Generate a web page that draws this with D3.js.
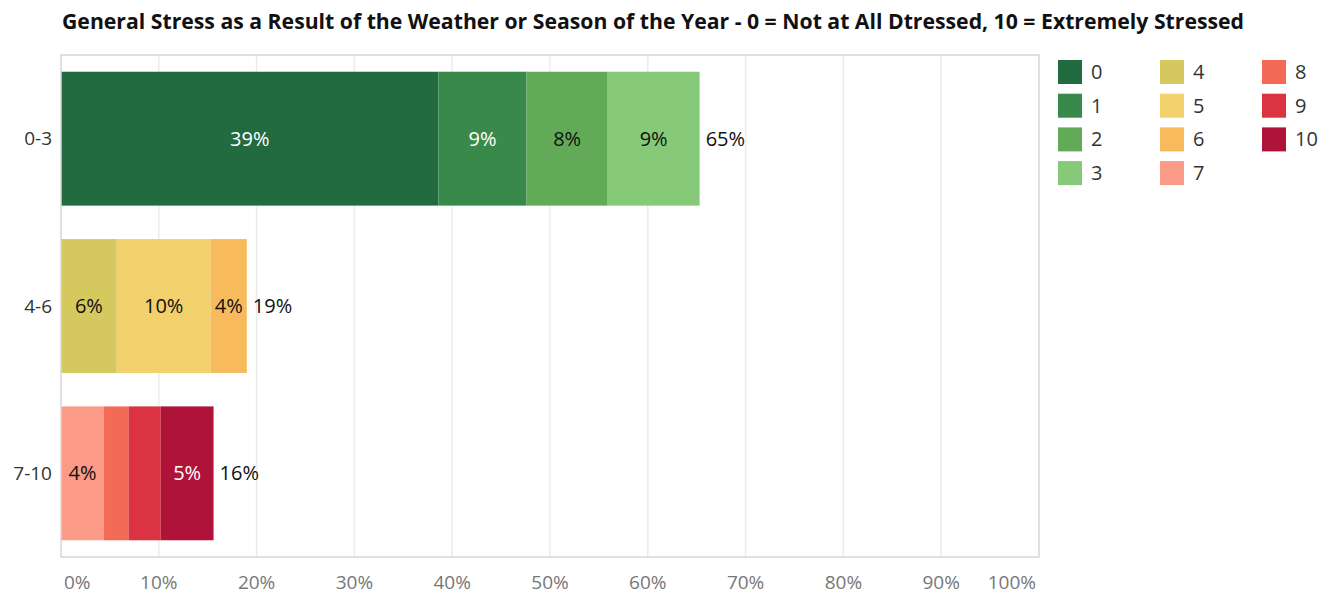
<!DOCTYPE html>
<html>
<head>
<meta charset="utf-8">
<style>
  body { margin: 0; background: #fff; }
  text { font-family: "Open Sans", "Noto Sans", sans-serif; }
</style>
</head>
<body>
<svg width="1331" height="595"></svg>
<script src="https://d3js.org/d3.v7.min.js"></script>
<script>

  // rows of the chart and the stress levels stacked inside each one
  var groups = ["0-3", "4-6", "7-10"];
  var levels = ["0", "1", "2", "3", "4", "5", "6", "7", "8", "9", "10"];
  var levelGroup = ["0-3", "0-3", "0-3", "0-3", "4-6", "4-6", "4-6", "7-10", "7-10", "7-10", "7-10"];
  var shares = [0.386, 0.090, 0.083, 0.094, 0.057, 0.096, 0.037, 0.044, 0.025, 0.033, 0.054];
  var colors = ["#226a3f", "#398a4a", "#62a958", "#86c978", "#d4c85f", "#f2d06b", "#f7bb5e",
                "#fb9a86", "#f36a55", "#db3341", "#af1339"];
  var whiteText = ["0", "1", "10"];
  var xTicks = [0, 0.1, 0.2, 0.3, 0.4, 0.5, 0.6, 0.7, 0.8, 0.9, 1.0];

  var svg = d3.select("svg"),
    margin = {top: 55, right: 292, bottom: 38, left: 61},
    width = +svg.attr("width") - margin.left - margin.right,
    height = +svg.attr("height") - margin.top - margin.bottom,
    g = svg.append("g").attr("transform", "translate(" + margin.left + "," + margin.top + ")");

  var x = d3.scaleLinear().domain([0, 1]).range([0, width]);
  var y = d3.scaleBand().domain(groups).range([0, height]).paddingInner(0.2).paddingOuter(0.1);
  var pct = d3.format(".0%");

  svg.append("text")
    .attr("x", 62).attr("y", 29)
    .attr("font-size", 22).attr("font-weight", "bold")
    .attr("fill", "#111")
    .attr("textLength", 1182).attr("lengthAdjust", "spacingAndGlyphs")
    .text("General Stress as a Result of the Weather or Season of the Year - 0 = Not at All Dtressed, 10 = Extremely Stressed");

  // gridlines
  g.selectAll(".grid")
    .data(xTicks.slice(1, -1))
    .enter().append("line")
    .attr("x1", function (d) { return x(d); })
    .attr("x2", function (d) { return x(d); })
    .attr("y1", 0).attr("y2", height)
    .attr("stroke", "#ececec").attr("stroke-width", 1.5);

  // stacked segments
  var segs = [];
  groups.forEach(function (grp) {
    var acc = 0;
    levels.forEach(function (lv, i) {
      if (levelGroup[i] !== grp) return;
      segs.push({group: grp, level: lv, value: shares[i], x0: acc, x1: acc + shares[i], color: colors[i]});
      acc += shares[i];
    });
  });

  g.selectAll(".seg")
    .data(segs)
    .enter().append("rect")
    .attr("x", function (d) { return x(d.x0); })
    .attr("width", function (d) { return x(d.x1) - x(d.x0); })
    .attr("y", function (d) { return y(d.group); })
    .attr("height", y.bandwidth())
    .attr("fill", function (d) { return d.color; });

  g.selectAll(".seglabel")
    .data(segs.filter(function (d) { return x(d.x1) - x(d.x0) > 34; }))
    .enter().append("text")
    .attr("x", function (d) { return (x(d.x0) + x(d.x1)) / 2; })
    .attr("y", function (d) { return y(d.group) + y.bandwidth() / 2; })
    .attr("dy", "0.35em")
    .attr("text-anchor", "middle")
    .attr("font-size", 20)
    .attr("fill", function (d) { return whiteText.indexOf(d.level) >= 0 ? "#fff" : "#111"; })
    .text(function (d) { return pct(d.value); });

  // totals
  var totals = groups.map(function (grp) {
    return {group: grp, value: d3.sum(segs.filter(function (d) { return d.group === grp; }), function (d) { return d.value; })};
  });

  g.selectAll(".total")
    .data(totals)
    .enter().append("text")
    .attr("x", function (d) { return x(d.value) + 6; })
    .attr("y", function (d) { return y(d.group) + y.bandwidth() / 2; })
    .attr("dy", "0.35em")
    .attr("font-size", 20)
    .attr("fill", "#111")
    .text(function (d) { return pct(d.value); });

  // frame
  g.append("rect")
    .attr("x", 0).attr("y", 0)
    .attr("width", width).attr("height", height)
    .attr("fill", "none").attr("stroke", "#d6d6d6").attr("stroke-width", 1.5);

  // y labels
  g.selectAll(".ylab")
    .data(groups)
    .enter().append("text")
    .attr("x", -9)
    .attr("y", function (d) { return y(d) + y.bandwidth() / 2; })
    .attr("dy", "0.35em")
    .attr("text-anchor", "end")
    .attr("font-size", 19)
    .attr("fill", "#333")
    .text(function (d) { return d; });

  // x tick labels; the edge ones are pulled inside the frame
  g.selectAll(".xlab")
    .data(xTicks)
    .enter().append("text")
    .attr("x", function (d) {
      if (d === 0) return x(d) + 3;
      if (d === 1) return x(d) - 3;
      return x(d);
    })
    .attr("y", height + 32)
    .attr("text-anchor", function (d) { return d === 0 ? "start" : d === 1 ? "end" : "middle"; })
    .attr("font-size", 19)
    .attr("fill", "#777")
    .text(function (d) { return pct(d); });

  // legend
  var legend = svg.append("g").attr("transform", "translate(1058,60)");
  var item = legend.selectAll(".item")
    .data(levels)
    .enter().append("g")
    .attr("transform", function (d, i) {
      return "translate(" + (Math.floor(i / 4) * 102) + "," + ((i % 4) * 33.7) + ")";
    });
  item.append("rect")
    .attr("width", 24).attr("height", 24)
    .attr("fill", function (d, i) { return colors[i]; });
  item.append("text")
    .attr("x", 33).attr("y", 12).attr("dy", "0.35em")
    .attr("font-size", 20)
    .attr("fill", "#333")
    .text(function (d) { return d; });

</script>
</body>
</html>
